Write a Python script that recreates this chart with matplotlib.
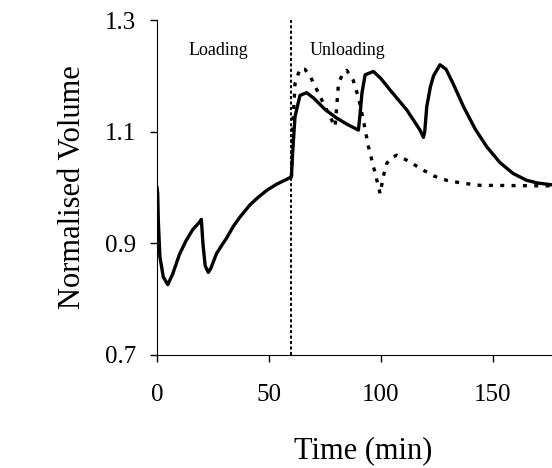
import matplotlib
matplotlib.use("Agg")
import matplotlib.pyplot as plt

plt.rcParams['font.family'] = ['Liberation Serif', 'DejaVu Serif']

# Solid curve (time in min, normalised volume)
solid_t = [0, 0.3, 0.6, 1.3, 2.8, 4.8, 7, 10, 13, 16, 19, 19.8, 20.5, 21.5, 22.9,
           24, 26.6, 29, 31, 34, 37, 41.5, 45, 49, 53.4, 57, 60, 60.5, 61.6, 63.8,
           66.8, 70, 75, 80, 85,
           89.9, 90.6, 91.5, 92.9, 96.6, 100, 104, 111.5, 117.4, 118.9, 119.5, 120.4,
           122, 123.4, 126.3, 129, 132.2, 136.8, 142, 147.2, 153, 159, 165, 170, 176]
solid_v = [1.00, 0.99, 0.94, 0.876, 0.84, 0.826, 0.845, 0.88, 0.905, 0.925, 0.938, 0.943,
           0.90, 0.86, 0.848, 0.855, 0.882, 0.897, 0.909, 0.93, 0.947, 0.969, 0.982, 0.995,
           1.006, 1.013, 1.019, 1.06,
           1.127, 1.165, 1.17, 1.16, 1.14, 1.125, 1.113, 1.103, 1.13, 1.17, 1.202, 1.208,
           1.195, 1.175, 1.139, 1.103, 1.09, 1.10, 1.145, 1.18, 1.20, 1.22, 1.212, 1.186,
           1.145, 1.105, 1.073, 1.045, 1.025, 1.013, 1.008, 1.005]

# Dotted curve (unloading phase)
dot_t = [60, 60.5, 61.6, 63.8, 66, 68.3, 72.8, 77.2, 79.5, 80.3, 81, 83, 84.7, 87.6,
         90, 92.1, 94.4, 97.4, 99.6, 101, 102.5, 104.5, 107, 112, 118.9, 124, 129.3,
         136, 144.2, 176]
dot_v = [1.019, 1.10, 1.186, 1.213, 1.212, 1.20, 1.163, 1.127, 1.109, 1.15, 1.186, 1.205,
         1.21, 1.192, 1.16, 1.121, 1.073, 1.025, 0.989, 1.02, 1.043, 1.053, 1.058, 1.048,
         1.031, 1.02, 1.013, 1.008, 1.004, 1.003]

switch_time = 60
x_ticks = [0, 50, 100, 150]
y_ticks = [0.7, 0.9, 1.1, 1.3]
y_tick_labels = ['0.7', '0.9', '1.1', '1.3']

fig = plt.figure(figsize=(5.52, 4.68), dpi=100)
ax = fig.add_axes([0.2844, 0.2415, 0.7156, 0.7155])

ax.plot(solid_t, solid_v, color='black', lw=2.4, solid_joinstyle='round')
ax.plot(dot_t, dot_v, color='black', lw=2.4, linestyle=(0, (1.2, 2.2)))
ax.axvline(switch_time, color='black', lw=1.4, linestyle=(0, (1.6, 1.2)))

ax.set_xlim(0, 176.3)
ax.set_ylim(0.7, 1.3)
ax.set_xticks(x_ticks)
ax.set_yticks(y_ticks)
ax.set_yticklabels(y_tick_labels)
ax.spines['top'].set_visible(False)
ax.spines['right'].set_visible(False)
ax.tick_params(direction='out', length=5, width=1, labelsize=18)
ax.tick_params(axis='x', pad=16)
ax.tick_params(axis='y', pad=10)

ax.text(27.5, 1.246, 'Loading', fontsize=13, ha='center', va='center')
ax.text(85, 1.246, 'Unloading', fontsize=13, ha='center', va='center')

ax.set_xlabel('Time (min)', fontsize=22)
ax.xaxis.set_label_coords(0.5215, -0.243)
ax.set_ylabel('Normalised Volume', fontsize=22)
ax.yaxis.set_label_coords(-0.178, 0.5)

fig.savefig('out.png', dpi=100)
